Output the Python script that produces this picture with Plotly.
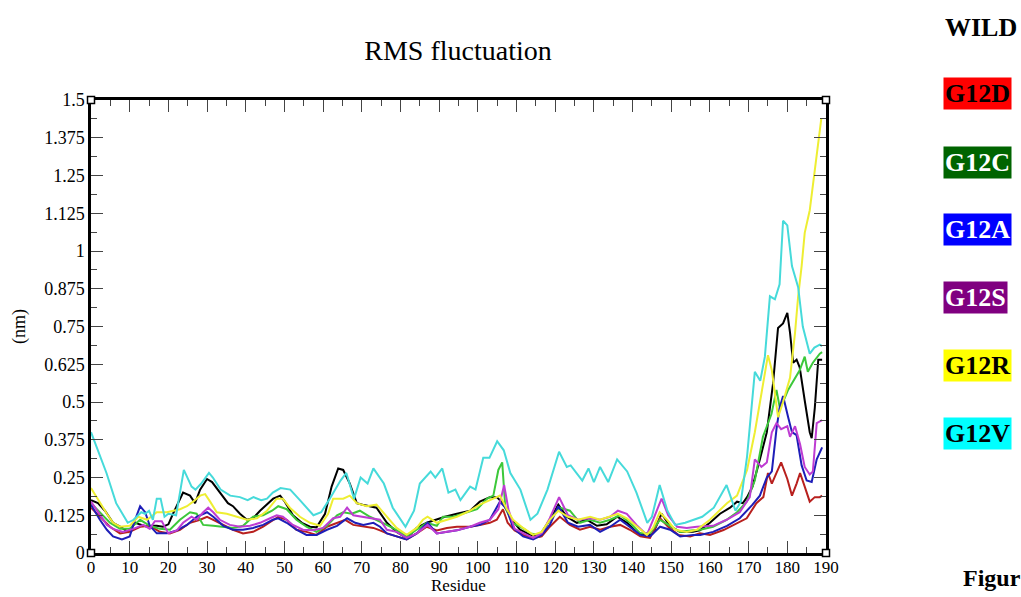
import plotly.graph_objects as go

# ---------------- data ----------------
wild_res = [0,1.8,3.6,5.7,7.5,9.6,11.4,12.7,14.5,15.7,17,18.6,20,21.2,22.5,23.8,25.6,26.9,28.2,30,31.3,33.3,35.4,36.7,38.5,40.3,41.9,43.7,45,47.1,48.9,50.1,52.2,54.5,56.6,58.3,60.5,62.2,63.9,65.2,66.9,68.7,70.2,72,73.8,76.5,79,81.6,84.2,86.8,89,91.5,94.6,98,100.5,103.1,104.9,106.5,108.8,110.9,113.5,116,118.6,120.8,123,125.6,128.2,130.8,133.3,136,138.6,141,143.7,145.3,147.5,149.6,152.2,155.6,157.4,160,162.6,165.2,167,168.5,169.6,171,172.9,174.7,176.3,177.6,178.9,180,180.7,181.5,182.4,183.2,184.5,185.8,186.3,187.1,188,189]
wild_rmsf = [0.175,0.165,0.14,0.10,0.087,0.07,0.10,0.095,0.087,0.09,0.09,0.087,0.095,0.13,0.165,0.20,0.19,0.165,0.21,0.245,0.235,0.20,0.165,0.155,0.13,0.11,0.115,0.14,0.155,0.18,0.19,0.17,0.125,0.10,0.087,0.085,0.13,0.22,0.28,0.275,0.23,0.165,0.16,0.155,0.15,0.10,0.07,0.05,0.083,0.10,0.11,0.12,0.13,0.14,0.17,0.185,0.185,0.165,0.11,0.077,0.06,0.055,0.11,0.16,0.12,0.10,0.11,0.09,0.095,0.12,0.10,0.07,0.055,0.065,0.13,0.09,0.07,0.07,0.075,0.10,0.13,0.15,0.17,0.165,0.185,0.22,0.31,0.40,0.56,0.745,0.76,0.795,0.73,0.63,0.64,0.615,0.505,0.40,0.38,0.48,0.64,0.64]

g12d_res = [0,2.3,4.9,7.5,10,12.7,15.2,17.8,20.4,23,25.6,28.2,30,31.6,34.2,36.7,39.3,41.9,44.5,47,48.4,50.6,53.1,55.7,58.3,61,63.6,65.7,67.8,70.4,73,74.7,76.5,79,81.6,84.2,86.8,89.4,92,94.6,98,100.5,103.1,104.9,106.5,107.7,109.5,111.7,114.3,116.5,118.6,121.2,123.8,126.4,129,131.6,134.2,136.8,139.3,142,144.5,147.1,149.2,151.8,154.9,157.4,160,163.5,167,169.5,172,173.8,175,176,177.2,178.4,180,181.2,182.4,183.3,184.5,185.8,187.1,188.4,189]
g12d_rmsf = [0.15,0.12,0.087,0.065,0.07,0.087,0.09,0.07,0.065,0.077,0.10,0.11,0.12,0.11,0.093,0.077,0.065,0.07,0.087,0.11,0.12,0.11,0.077,0.07,0.06,0.087,0.10,0.11,0.093,0.087,0.083,0.075,0.065,0.055,0.045,0.065,0.087,0.075,0.083,0.087,0.087,0.093,0.10,0.11,0.145,0.10,0.075,0.06,0.05,0.055,0.087,0.12,0.093,0.077,0.087,0.077,0.087,0.093,0.077,0.055,0.05,0.115,0.087,0.06,0.055,0.065,0.06,0.076,0.10,0.115,0.165,0.185,0.265,0.23,0.265,0.30,0.245,0.19,0.23,0.265,0.22,0.17,0.185,0.185,0.19]

g12c_res = [0,2.3,4.9,7.5,10,12.7,15.2,17.8,20.4,23,25.6,27.3,29,31.6,34.2,36.7,39.3,41.9,44.5,46.8,48.4,50.6,53.1,55.7,58.3,61,63.6,65.2,67.4,69.5,72.1,75.5,78,81.6,84.2,86.8,89.4,91,93.6,97.2,99.8,102.4,104,105.3,106.3,107.1,108.9,111,113.6,116,118.6,121.2,123.8,126.4,129,131.6,134.2,136.8,139.3,142,144.5,147.1,149.7,152.3,155.7,157.5,160.8,164.3,167,169.5,171.6,173.7,175.9,177.2,178,178.9,180.2,181.5,183.2,184.5,185.3,186.6,188.4,189]
g12c_rmsf = [0.165,0.135,0.10,0.08,0.08,0.11,0.09,0.08,0.077,0.11,0.135,0.13,0.093,0.09,0.087,0.083,0.09,0.12,0.125,0.14,0.155,0.145,0.11,0.087,0.07,0.09,0.125,0.135,0.13,0.14,0.12,0.10,0.083,0.055,0.077,0.10,0.09,0.12,0.12,0.135,0.145,0.18,0.19,0.275,0.30,0.15,0.10,0.087,0.065,0.06,0.11,0.15,0.14,0.10,0.11,0.10,0.11,0.125,0.10,0.065,0.065,0.11,0.09,0.07,0.075,0.077,0.087,0.11,0.135,0.17,0.24,0.385,0.46,0.54,0.485,0.50,0.54,0.57,0.605,0.65,0.60,0.63,0.66,0.665]

g12a_res = [0,2.3,4.1,5.7,8,10,11.4,12.7,14,15.2,17,19.6,22.2,24.8,27.3,30,31.6,34.2,36.7,39.3,41.9,44.5,47,48.4,50.6,53.1,55.7,58.3,61,63.6,66.2,68.3,70.4,73,74.7,76.5,79,81.6,84.2,87,89.4,92,94.6,98,100.5,103.1,105.7,107.5,109.1,111.7,114.3,116.5,118.6,120.8,123.3,125.9,129,131.6,134.2,136.8,139.3,142,144.5,147.1,149.7,152.3,155.7,157.5,160.8,164.4,167.7,171,172.9,174.7,176,177.2,178,178.9,180.2,181.2,182.4,183.7,185,186.3,187.6,189]
g12a_rmsf = [0.16,0.11,0.077,0.055,0.045,0.055,0.11,0.155,0.135,0.09,0.065,0.065,0.075,0.093,0.12,0.135,0.12,0.09,0.077,0.077,0.083,0.093,0.11,0.115,0.10,0.077,0.06,0.06,0.077,0.09,0.115,0.10,0.093,0.10,0.087,0.065,0.055,0.045,0.065,0.10,0.065,0.07,0.075,0.087,0.093,0.11,0.17,0.145,0.083,0.055,0.045,0.06,0.093,0.155,0.10,0.087,0.093,0.07,0.087,0.11,0.087,0.06,0.055,0.087,0.077,0.055,0.06,0.06,0.07,0.09,0.115,0.16,0.19,0.25,0.27,0.41,0.48,0.52,0.45,0.40,0.39,0.29,0.24,0.235,0.31,0.35]

g12s_res = [0,2.3,4.1,5.7,8.3,10.9,13.5,15.2,16.5,18.3,20,22.2,23.8,26,27.3,29,30.3,31.6,33.3,35.9,38.5,41.1,43.7,46.3,48,49.6,52.2,54.8,57.4,60,62.6,64.4,66.2,67.8,70.4,73,74.7,76.5,79,81.6,84.2,87,89.4,92,94.6,98,100.5,103.1,105.3,106.8,107.9,109.5,111.7,114.3,116.5,118.6,121,123.3,125.9,129,131.6,134.2,136.2,138.5,141,143.7,145.3,147.5,149.2,151.5,154,156.6,160.8,164.3,167.7,170.3,171.6,173.3,174.7,176,177.2,178.4,180,180.7,182,183.3,184.5,185.8,186.6,187.6,189]
g12s_rmsf = [0.17,0.125,0.093,0.08,0.07,0.08,0.093,0.08,0.105,0.105,0.065,0.075,0.10,0.12,0.11,0.135,0.15,0.135,0.11,0.093,0.087,0.09,0.10,0.115,0.125,0.12,0.093,0.077,0.075,0.083,0.115,0.12,0.15,0.125,0.12,0.115,0.11,0.077,0.07,0.05,0.065,0.093,0.065,0.07,0.075,0.087,0.10,0.11,0.145,0.225,0.145,0.08,0.065,0.05,0.065,0.115,0.185,0.125,0.11,0.115,0.11,0.12,0.14,0.13,0.093,0.06,0.11,0.18,0.125,0.087,0.083,0.087,0.09,0.11,0.135,0.185,0.31,0.285,0.30,0.40,0.43,0.41,0.42,0.385,0.42,0.36,0.285,0.26,0.27,0.43,0.44]

g12r_res = [0,2.3,4.1,5.7,7.5,10,12.2,14.5,17,19.6,21.2,23,24.8,26.4,28.2,29.5,30.8,32.5,35.1,37.7,40.3,42.9,45.5,48,49.6,51.4,54,56.6,59.2,61.3,62.6,65.2,66.9,68.7,71.3,73.8,76.5,79,81.6,84.2,85.8,87,89.4,92,94.6,98,100.5,104,105.7,107.5,109.1,111.7,114.3,116.5,118.6,120.8,123.3,125.9,129,131.6,134.2,136.2,138.5,141,143.7,145.3,147,148.9,151,154,156.6,160,164.4,167,169.6,171.6,173.7,175,176,176.8,177.6,178.9,180,180.7,182,182.8,183.7,184.5,185.8,188.8]
g12r_rmsf = [0.215,0.165,0.13,0.10,0.087,0.09,0.12,0.11,0.135,0.135,0.14,0.145,0.155,0.17,0.19,0.195,0.17,0.135,0.13,0.12,0.11,0.115,0.14,0.18,0.18,0.15,0.12,0.10,0.09,0.13,0.18,0.18,0.19,0.165,0.155,0.16,0.12,0.083,0.06,0.083,0.11,0.12,0.10,0.11,0.12,0.14,0.16,0.18,0.19,0.145,0.11,0.083,0.06,0.07,0.11,0.14,0.12,0.11,0.12,0.11,0.12,0.13,0.115,0.09,0.06,0.083,0.135,0.11,0.077,0.07,0.077,0.11,0.165,0.19,0.275,0.40,0.55,0.655,0.605,0.52,0.45,0.50,0.555,0.58,0.73,0.85,0.95,1.06,1.135,1.44]

g12v_res = [0,2,4,6.5,9.5,11,13,14,15,16,17,18,19,20,22,24,26,27,28.5,30.5,31.5,33.5,36,38.5,40.5,42,44,45.5,47,49,51.5,54,57.5,59.5,61.5,64.5,66,68,69.7,71.5,73,75.7,78,81.3,83.5,85,87.8,89,90.8,92.4,94.2,95.5,98,99.4,101.4,103,105,106.7,108.4,111,113.6,115.4,118,121,123,124,127,128.6,130,131.6,133.7,136,138.6,141,143.8,145,147,149,151,153.6,155.7,158,161,164.3,166.6,168,169.6,170.5,171.6,173,174.2,175.5,176.8,178,178.9,180,181.2,182.8,184,185.8,187,188.4,189]
g12v_rmsf = [0.40,0.33,0.265,0.165,0.10,0.11,0.135,0.13,0.14,0.11,0.18,0.18,0.12,0.13,0.125,0.275,0.22,0.21,0.23,0.265,0.25,0.21,0.19,0.185,0.175,0.185,0.175,0.18,0.20,0.215,0.21,0.175,0.125,0.135,0.175,0.24,0.265,0.18,0.25,0.23,0.28,0.23,0.15,0.087,0.14,0.23,0.27,0.25,0.28,0.20,0.21,0.175,0.22,0.21,0.315,0.315,0.37,0.34,0.265,0.21,0.11,0.13,0.21,0.335,0.285,0.29,0.24,0.28,0.235,0.285,0.235,0.31,0.27,0.20,0.10,0.12,0.225,0.14,0.093,0.10,0.11,0.12,0.15,0.225,0.14,0.17,0.32,0.44,0.60,0.57,0.65,0.85,0.84,0.89,1.10,1.085,0.95,0.88,0.75,0.66,0.68,0.69,0.685]

series_names = ["WILD", "G12D", "G12C", "G12A", "G12S", "G12R", "G12V"]
line_colors = ["#000000", "#B8201E", "#3CC83A", "#1E1EB8", "#BE3CD2", "#EEEE32", "#46DADA"]
box_colors = [None, "#FF0000", "#006400", "#0000FF", "#800080", "#FFFF00", "#00FFFF"]
text_colors = ["#000000", "#000000", "#FFFFFF", "#FFFFFF", "#FFFFFF", "#000000", "#000000"]

x_ticks = list(range(0, 191, 10))
y_ticks = [0, 0.125, 0.25, 0.375, 0.5, 0.625, 0.75, 0.875, 1, 1.125, 1.25, 1.375, 1.5]
y_tick_labels = ["0", "0.125", "0.25", "0.375", "0.5", "0.625", "0.75", "0.875", "1", "1.125", "1.25", "1.375", "1.5"]

all_res = [wild_res, g12d_res, g12c_res, g12a_res, g12s_res, g12r_res, g12v_res]
all_val = [wild_rmsf, g12d_rmsf, g12c_rmsf, g12a_rmsf, g12s_rmsf, g12r_rmsf, g12v_rmsf]

FONT = "Liberation Serif"
PLOT_L, PLOT_R, PLOT_T, PLOT_B = 91, 826, 100, 553
PW, PH = PLOT_R - PLOT_L, PLOT_B - PLOT_T


def px_x(px):
    return (px - PLOT_L) / PW


def px_y(py):
    return (PLOT_B - py) / PH


fig = go.Figure()
for name, xs, ys, col in zip(series_names, all_res, all_val, line_colors):
    fig.add_trace(go.Scatter(x=xs, y=ys, mode="lines", name=name,
                             line=dict(color=col, width=2), showlegend=False))

fig.update_layout(
    width=1021, height=597,
    margin=dict(l=PLOT_L, r=1021 - PLOT_R, t=PLOT_T, b=597 - PLOT_B, autoexpand=False),
    paper_bgcolor="white", plot_bgcolor="white",
    font=dict(family=FONT, color="black", size=18),
    title=dict(text="RMS fluctuation", x=(458 / 1021), xanchor="center",
               y=1 - 50 / 597, yanchor="middle",
               font=dict(family=FONT, size=28, color="black")),
)

axis_common = dict(showline=True, linewidth=2.5, linecolor="black", mirror="allticks",
                   showgrid=False, zeroline=False, ticks="inside", ticklen=12,
                   tickwidth=1.2, tickcolor="#444444", automargin=False)

fig.update_xaxes(range=[0, 190], tickvals=x_ticks, ticklabelstandoff=-3,
                 tickfont=dict(family=FONT, size=17, color="black"),
                 minor=dict(dtick=5, tick0=0, ticks="inside", ticklen=6, tickwidth=1.2, tickcolor="#444444"),
                 **axis_common)
fig.update_yaxes(range=[0, 1.5], tickvals=y_ticks, ticktext=y_tick_labels,
                 tickfont=dict(family=FONT, size=18, color="black"),
                 minor=dict(dtick=0.0625, tick0=0, ticks="inside", ticklen=6, tickwidth=1.2, tickcolor="#444444"),
                 title=dict(text="(nm)", font=dict(family=FONT, size=18), standoff=14),
                 **axis_common)

# x-axis title placed just under the tick labels
fig.add_annotation(text="Residue", xref="paper", yref="paper",
                   x=px_x(458), xanchor="center", y=px_y(597), yanchor="bottom",
                   showarrow=False, font=dict(family=FONT, size=17, color="black"))

# legend labels as text boxes on the right
label_y = [27, 94, 162, 229, 297, 365, 433]
for name, yc, bg, tc in zip(series_names, label_y, box_colors, text_colors):
    ann = dict(text="<b>%s</b>" % name, xref="paper", yref="paper",
               x=px_x(943), xanchor="left",
               y=px_y(yc), yanchor="middle", showarrow=False,
               font=dict(family=FONT, size=26, color=tc), borderpad=1)
    if bg:
        ann["bgcolor"] = bg
    fig.add_annotation(**ann)

fig.add_annotation(text="<b>Figur</b>", xref="paper", yref="paper",
                   x=px_x(961), xanchor="left", y=px_y(578), yanchor="middle",
                   showarrow=False, font=dict(family=FONT, size=24, color="black"))

# small square markers at the frame corners (xmgrace style)
for cx, cy in [(0, 0), (1, 0), (0, 1), (1, 1)]:
    fig.add_shape(type="rect", xref="paper", yref="paper",
                  x0=cx - 3.5 / PW, x1=cx + 3.5 / PW, y0=cy - 3.5 / PH, y1=cy + 3.5 / PH,
                  line=dict(color="black", width=1.5), fillcolor="white", layer="above")

fig.write_html("out.html")
